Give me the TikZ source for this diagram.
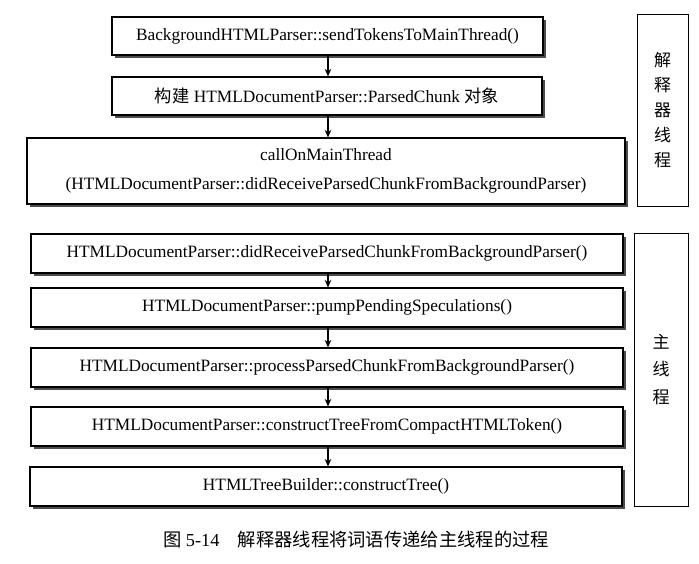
\documentclass[tikz,border=0pt]{standalone}
\usepackage{fontspec}
\setmainfont{Liberation Serif}
\newfontfamily\cjk{Noto Sans CJK SC}
\usepackage{tikz}
\usetikzlibrary{arrows.meta,shadows}

\begin{document}
\begin{tikzpicture}[x=1pt,y=-1pt,
  callbox/.style={draw, line width=1.1pt, fill=white, inner sep=0pt, align=center,
    font=\fontsize{17.3}{28.5}\selectfont,
    drop shadow={shadow xshift=2.6pt, shadow yshift=-2.6pt, fill=black!70, opacity=1}},
  threadbox/.style={draw, line width=0.7pt, inner sep=0pt, align=center,
    font=\fontsize{17}{25}\selectfont\cjk},
  flow/.style={-{Stealth[length=7.5pt,width=6.5pt]}, line width=1.4pt}]

\useasboundingbox (0,0) rectangle (699,564);

% interpreter thread
\node[callbox, minimum width=431pt, minimum height=38pt] (send) at (327.5,36)
  {BackgroundHTMLParser::sendTokensToMainThread()};
\node[callbox, minimum width=430pt, minimum height=38pt] (chunk) at (327,96)
  {{\cjk 构建} HTMLDocumentParser::ParsedChunk {\cjk 对象}};
\node[callbox, minimum width=598pt, minimum height=66pt] (call) at (326,171)
  {callOnMainThread\\(HTMLDocumentParser::didReceiveParsedChunkFromBackgroundParser)};
\node[threadbox, minimum width=51pt, minimum height=192pt] (worker) at (662.5,110)
  {解\\释\\器\\线\\程};

% main thread
\node[callbox, minimum width=592pt, minimum height=39pt] (receive) at (327,253.5)
  {HTMLDocumentParser::didReceiveParsedChunkFromBackgroundParser()};
\node[callbox, minimum width=592pt, minimum height=39pt] (pump) at (327,307.5)
  {HTMLDocumentParser::pumpPendingSpeculations()};
\node[callbox, minimum width=592pt, minimum height=39pt] (process) at (327,367.5)
  {HTMLDocumentParser::processParsedChunkFromBackgroundParser()};
\node[callbox, minimum width=592pt, minimum height=39pt] (construct) at (327,426.5)
  {HTMLDocumentParser::constructTreeFromCompactHTMLToken()};
\node[callbox, minimum width=592pt, minimum height=39pt] (builder) at (326,486.5)
  {HTMLTreeBuilder::constructTree()};
\node[threadbox, minimum width=54pt, minimum height=273pt,
      font=\fontsize{17}{27.5}\selectfont\cjk] (mainthr) at (661,369.5)
  {主\\线\\程};

% arrows
\foreach \a/\b in {send/chunk, chunk/call, receive/pump, pump/process,
                   process/construct, construct/builder} {
  \draw[flow] (\a.south -| 328,0) -- (\b.north -| 328,0);
}

\node[font=\fontsize{18.3}{22}\selectfont] (caption) at (356,540)
  {{\cjk 图} 5-14\quad{\cjk 解释器线程将词语传递给主线程的过程}};
\end{tikzpicture}
\end{document}
